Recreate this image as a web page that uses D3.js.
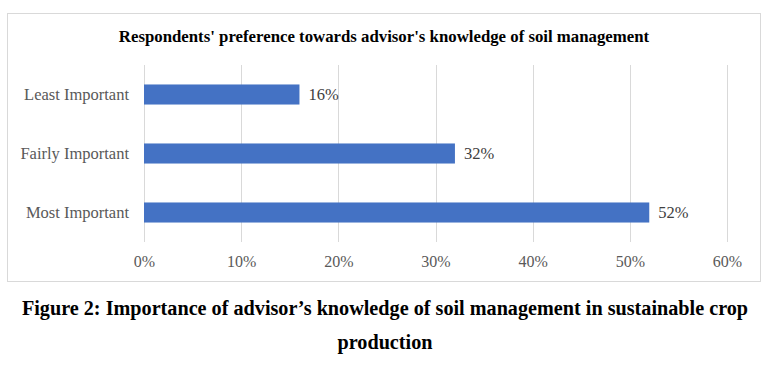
<!DOCTYPE html>
<html>
<head>
<meta charset="utf-8">
<script src="https://cdn.jsdelivr.net/npm/d3@7"></script>
<style>
  body { margin: 0; background: #fff; }
  svg { display: block; font-family: "Liberation Serif", "Times New Roman", serif; }
</style>
</head>
<body>
<div id="chart"></div>
<script>
// chart values
const categories = ["Least Important", "Fairly Important", "Most Important"];
const shares = [0.16, 0.32, 0.52];
const tickValues = [0, 0.1, 0.2, 0.3, 0.4, 0.5, 0.6];

const width = 770, height = 373;
const svg = d3.select("#chart").append("svg")
    .attr("width", width)
    .attr("height", height);

// chart area frame
svg.append("rect")
    .attr("x", 7.5).attr("y", 13.5)
    .attr("width", 753).attr("height", 268)
    .attr("fill", "#fff")
    .attr("stroke", "#d9d9d9")
    .attr("stroke-width", 1);

svg.append("text")
    .attr("x", 384).attr("y", 42)
    .attr("text-anchor", "middle")
    .attr("font-size", 16.8)
    .attr("font-weight", "bold")
    .attr("fill", "#000")
    .text("Respondents' preference towards advisor's knowledge of soil management");

const x = d3.scaleLinear().domain([0, 0.6]).range([144, 727]);
const y = d3.scaleBand().domain(categories).range([65, 242]).paddingInner(0.66).paddingOuter(0.33);

// gridlines
svg.append("g")
    .selectAll("line")
    .data(tickValues)
    .join("line")
    .attr("x1", d => Math.round(x(d)) + 0.5)
    .attr("x2", d => Math.round(x(d)) + 0.5)
    .attr("y1", 65).attr("y2", 242)
    .attr("stroke", "#d9d9d9");

// x axis labels
const xAxis = svg.append("g")
    .attr("transform", "translate(0,242)")
    .call(d3.axisBottom(x).tickValues(tickValues).tickFormat(d3.format(".0%")).tickSize(0).tickPadding(14));
xAxis.select(".domain").remove();
xAxis.selectAll("text")
    .attr("font-family", "Liberation Serif, Times New Roman, serif")
    .attr("font-size", 16)
    .attr("fill", "#595959");

// category labels
const yAxis = svg.append("g")
    .attr("transform", "translate(144,0)")
    .call(d3.axisLeft(y).tickSize(0).tickPadding(15));
yAxis.select(".domain").remove();
yAxis.selectAll("text")
    .attr("font-family", "Liberation Serif, Times New Roman, serif")
    .attr("font-size", 16.5)
    .attr("fill", "#595959");

// bars
svg.append("g")
    .selectAll("rect")
    .data(categories)
    .join("rect")
    .attr("x", x(0))
    .attr("y", d => y(d))
    .attr("width", (d, i) => x(shares[i]) - x(0))
    .attr("height", y.bandwidth())
    .attr("fill", "#4472c4");

// value labels
svg.append("g")
    .selectAll("text")
    .data(categories)
    .join("text")
    .attr("x", (d, i) => x(shares[i]) + 9)
    .attr("y", d => y(d) + y.bandwidth() / 2)
    .attr("dy", "0.35em")
    .attr("font-size", 16.5)
    .attr("fill", "#404040")
    .text((d, i) => d3.format(".0%")(shares[i]));

// figure caption
const caption = svg.append("text")
    .attr("text-anchor", "middle")
    .attr("font-size", 20.2)
    .attr("font-weight", "bold")
    .attr("fill", "#000");
caption.append("tspan").attr("x", 385).attr("y", 315)
    .text("Figure 2: Importance of advisor\u2019s knowledge of soil management in sustainable crop");
caption.append("tspan").attr("x", 385).attr("y", 349)
    .text("production");
</script>
</body>
</html>
